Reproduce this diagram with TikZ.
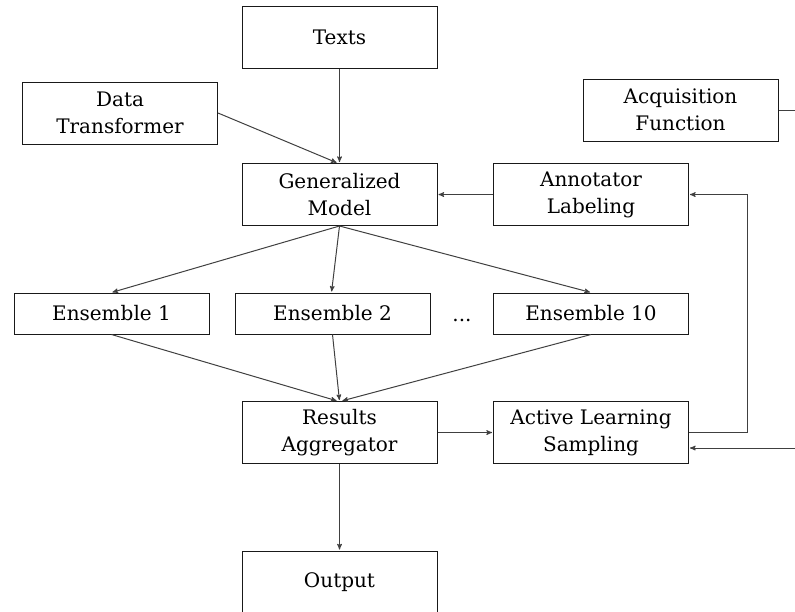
\documentclass[tikz,border=0pt]{standalone}
\usepackage{fontspec}
\setmainfont{DejaVu Serif}
\usepackage{tikz}
\usetikzlibrary{arrows}
\tikzset{->,>=stealth',shorten >=1pt,
  box/.style={-,draw=black!90,line width=1pt,minimum width=195pt,minimum height=62pt,
    align=center,inner sep=2pt,font=\fontsize{20}{27}\selectfont},
  ensbox/.style={box,minimum height=41pt}}

\begin{document}
\begin{tikzpicture}[line width=1pt,draw=black!75]
              \useasboundingbox (0,0) rectangle (795pt,-611pt);
              \clip (0,0) rectangle (795pt,-611pt);

              \node[box] (texts) at (339.5pt,-37pt) {Texts};
              \node[box] (gm) [below of=texts, node distance=157.5pt] {Generalized\\Model};
              \node[box] (annot) [right of=gm, node distance=251.5pt] {Annotator\\Labeling};
              \node[box] (dt) at (120pt,-113pt) {Data\\Transformer};
              \node[box] (acq) at (680.5pt,-110pt) {Acquisition\\Function};

              \node[ensbox] (ens2) at (332.5pt,-313.5pt) {Ensemble 2};
              \node[ensbox] (ens1) [left of=ens2, node distance=221pt] {Ensemble 1};
              \node[ensbox] (ens10) [right of=ens2, node distance=258.5pt] {Ensemble 10};
              \node[font=\fontsize{20}{27}\selectfont] (dots) at (462pt,-320pt) {...};

              \node[box] (ra) [below of=gm, node distance=238pt] {Results\\Aggregator};
              \node[box] (als) [right of=ra, node distance=251.5pt] {Active Learning\\Sampling};
              \node[box] (out) [below of=ra, node distance=149.5pt] {Output};

              \coordinate (loopc) at ([xshift=58pt]als.east);
              \coordinate (acqc) at ([xshift=40pt]acq.east);

              \path
              (texts) edge (gm)
              (dt.east) edge ([xshift=-2pt]gm.north)
              (gm.south) edge (ens1.north)
              (gm.south) edge ([xshift=-1pt]ens2.north)
              (gm.south) edge (ens10.north)
              (ens1.south) edge ([xshift=-2pt]ra.north)
              (ens2.south) edge (ra.north)
              (ens10.south) edge ([xshift=2pt]ra.north)
              (ra) edge (als)
              (ra) edge (out)
              (annot) edge (gm)
              ;
              \draw (als.east) -- (loopc) |- (annot.east);
              \draw (acq.east) -- (acqc) |- ([yshift=-15.5pt]als.east);
            \end{tikzpicture}
\end{document}
